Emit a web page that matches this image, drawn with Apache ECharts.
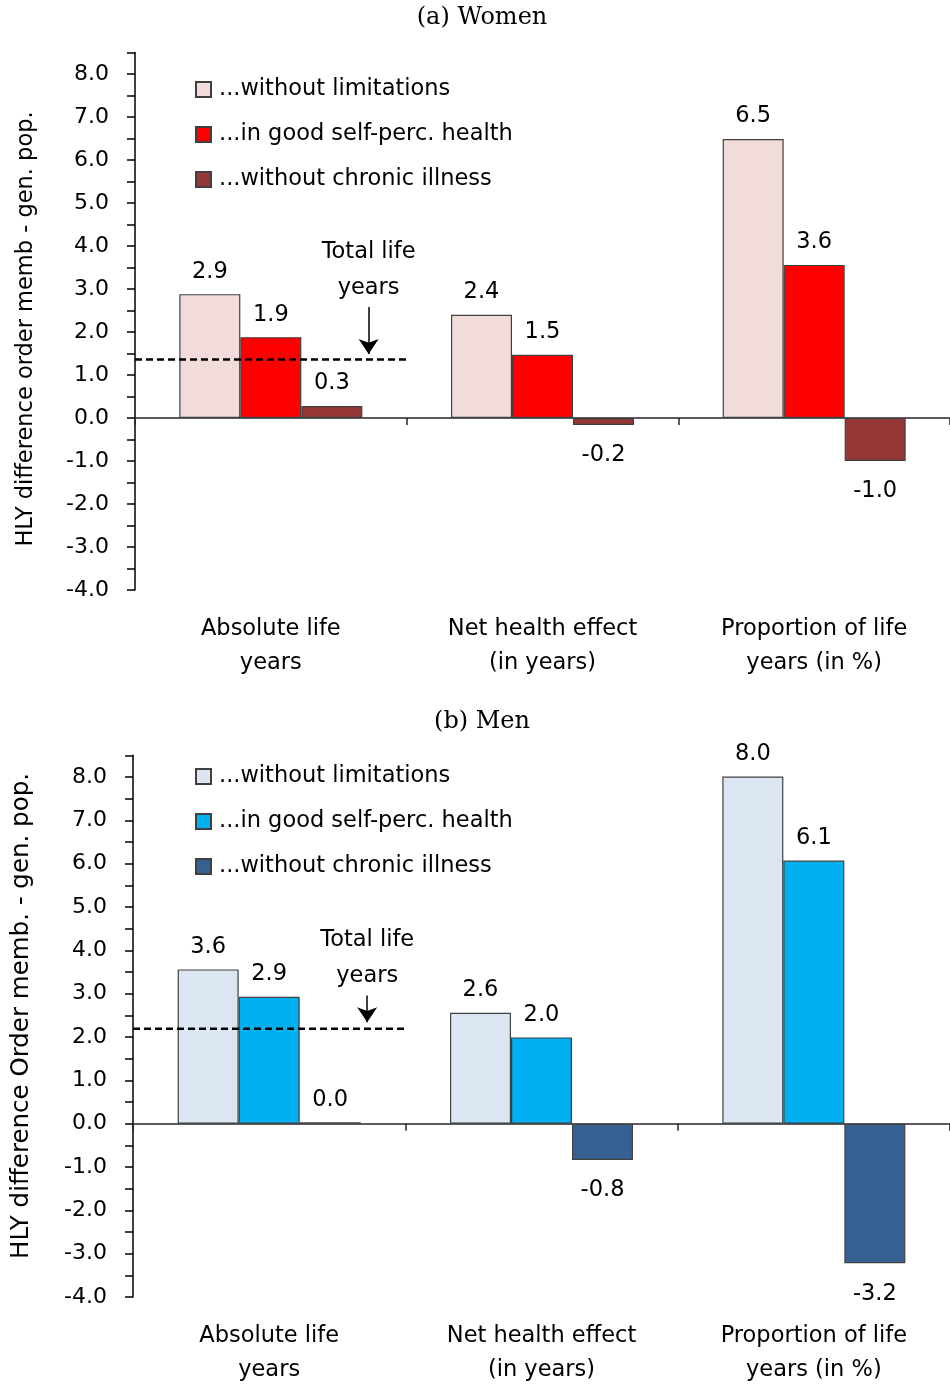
<!DOCTYPE html>
<html><head><meta charset="utf-8">
<script src="https://cdn.jsdelivr.net/npm/echarts@6/dist/echarts.min.js"></script>
<style>html,body{margin:0;padding:0;background:#fff}#c{width:950px;height:1384px}</style>
</head><body><div id="c"></div>
<script>
// ---- data ----
const categories = ['Absolute life\nyears', 'Net health effect\n(in years)', 'Proportion of life\nyears (in %)'];
const seriesLabels = ['...without limitations', '...in good self-perc. health', '...without chronic illness'];
const panelTitles = ['(a) Women', '(b) Men'];
const yAxisNames = ['HLY difference order memb - gen. pop.', 'HLY difference Order memb. - gen. pop.'];

const womenWithoutLimitations = [2.88, 2.40, 6.49];
const womenGoodHealth = [1.88, 1.47, 3.56];
const womenNoChronic = [0.28, -0.16, -1.00];

const menWithoutLimitations = [3.56, 2.56, 8.01];
const menGoodHealth = [2.93, 1.99, 6.07];
const menNoChronic = [0.03, -0.84, -3.22];

const womenTotalLifeYears = 1.36;
const menTotalLifeYears = 2.19;
// arrow annotation (x in category units from left edge, y from/to in axis values)
const womenArrow = [0.86, 2.58, 1.49];
const menArrow = [0.86, 2.96, 2.34];
const totalLifeLabel = 'Total life\nyears';

const yMin = -4, yMax = 8.5, yStep = 0.5;

// ---- styles ----
const FONT = 'DejaVu Sans';
const FS = 22.5;
const womenColors = ['#F2DCDB', '#FF0000', '#953735'];
const menColors = ['#DCE6F2', '#00B0F0', '#376092'];

const grids = [
  { left: 135, right: 0, top: 52.5, height: 537.5, outerBoundsMode: 'none', containLabel: false },
  { left: 133, right: 0, top: 755.3, height: 541.7, outerBoundsMode: 'none', containLabel: false }
];

function yAxisFor(i) {
  return {
    type: 'value', gridIndex: i, min: yMin, max: yMax, interval: yStep,
    axisLine: { show: true, lineStyle: { color: '#000', width: 1.5 } },
    axisTick: { show: true, length: 8, lineStyle: { color: '#000', width: 1.5 } },
    splitLine: { show: false },
    axisLabel: {
      margin: 26, fontFamily: FONT, fontSize: 22, color: '#000',
      formatter: v => (Math.abs(v - Math.round(v)) < 1e-9 ? v.toFixed(1) : '')
    }
  };
}

function xAxesFor(i) {
  return [
    { type: 'category', gridIndex: i, data: categories,
      axisLine: { show: true, onZero: true, lineStyle: { color: '#262626', width: 1.5 } },
      axisTick: { show: true, length: 7, lineStyle: { color: '#262626', width: 1.5 } },
      axisLabel: { show: false } },
    { type: 'category', gridIndex: i, data: categories, position: 'bottom',
      axisLine: { show: false, onZero: false }, axisTick: { show: false },
      axisLabel: { show: true, margin: 22, fontFamily: FONT, fontSize: FS, color: '#000', lineHeight: 34 } },
    { type: 'value', gridIndex: i, min: 0, max: categories.length, show: false }
  ];
}

function barSeries(prefix, values, color, idx, gridIdx) {
  return {
    name: prefix + seriesLabels[idx], type: 'bar',
    xAxisIndex: gridIdx * 3, yAxisIndex: gridIdx,
    barWidth: 61, barGap: '0%',
    itemStyle: { color: color, borderColor: '#404040', borderWidth: 1.2 },
    label: {
      show: true, fontFamily: FONT, fontSize: FS, color: '#000',
      formatter: p => p.value.toFixed(1)
    },
    data: values.map(v => ({
      value: v,
      label: v < 0 ? { position: 'bottom', distance: 19 } : { position: 'top', distance: 11 }
    })),
    z: 2
  };
}

function totalLine(gridIdx, value, arrow) {
  return {
    name: 'total' + gridIdx, type: 'line', xAxisIndex: gridIdx * 3 + 2, yAxisIndex: gridIdx,
    data: [[0, value], [1, value]], symbol: 'none', silent: true, z: 5,
    lineStyle: { color: '#000', width: 2.5, type: [7, 4] },
    markLine: {
      silent: true, symbol: ['none', 'arrow'], symbolSize: 15,
      lineStyle: { color: '#000', width: 1.5, type: 'solid' },
      label: {
        show: true, position: 'start', distance: 1, formatter: totalLifeLabel,
        fontFamily: FONT, fontSize: FS, color: '#000', lineHeight: 36
      },
      data: [[{ coord: [arrow[0], arrow[1]] }, { coord: [arrow[0], arrow[2]] }]]
    }
  };
}

const womenPrefix = 'W:', menPrefix = 'M:';
const legendFormatter = name => name.slice(2);
function legendFor(prefix, top) {
  return {
    orient: 'vertical', left: 195, top: top, padding: 0, icon: 'rect',
    itemWidth: 15, itemHeight: 15, itemGap: 22,
    selectedMode: false, data: seriesLabels.map(s => prefix + s), formatter: legendFormatter,
    textStyle: { fontFamily: FONT, fontSize: FS, color: '#000', padding: [0, 0, 0, 3] }
  };
}

function vText(text, x, y, size) {
  return { type: 'text', x: x, y: y, rotation: Math.PI / 2,
    style: { text: text, fontFamily: FONT, fontSize: size, fill: '#000', textAlign: 'center', textVerticalAlign: 'middle' } };
}

const option = {
  backgroundColor: '#fff',
  animation: false,
  grid: grids,
  xAxis: [...xAxesFor(0), ...xAxesFor(1)],
  yAxis: [yAxisFor(0), yAxisFor(1)],
  legend: [legendFor(womenPrefix, 78), legendFor(menPrefix, 765)],
  graphic: [
    { type: 'text', x: 482, y: 18, style: { text: panelTitles[0], fontFamily: 'DejaVu Serif', fontSize: 24, fill: '#000', textAlign: 'center', textVerticalAlign: 'middle' } },
    { type: 'text', x: 482, y: 722, style: { text: panelTitles[1], fontFamily: 'DejaVu Serif', fontSize: 24, fill: '#000', textAlign: 'center', textVerticalAlign: 'middle' } },
    vText(yAxisNames[0], 26, 329, FS),
    vText(yAxisNames[1], 22, 1016, 24.5)
  ],
  series: [
    barSeries(womenPrefix, womenWithoutLimitations, womenColors[0], 0, 0),
    barSeries(womenPrefix, womenGoodHealth, womenColors[1], 1, 0),
    barSeries(womenPrefix, womenNoChronic, womenColors[2], 2, 0),
    totalLine(0, womenTotalLifeYears, womenArrow),
    barSeries(menPrefix, menWithoutLimitations, menColors[0], 0, 1),
    barSeries(menPrefix, menGoodHealth, menColors[1], 1, 1),
    barSeries(menPrefix, menNoChronic, menColors[2], 2, 1),
    totalLine(1, menTotalLifeYears, menArrow)
  ]
};

const chart = echarts.init(document.getElementById('c'), null, { renderer: 'canvas' });
chart.setOption(option);
</script>
</body></html>
